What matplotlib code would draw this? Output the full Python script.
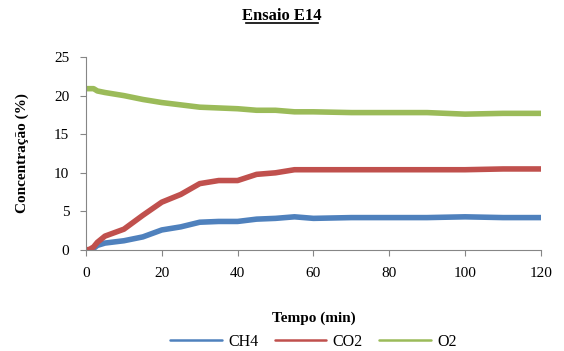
import matplotlib
matplotlib.use("Agg")
import matplotlib.pyplot as plt

tempo = [0, 1, 2, 3, 5, 10, 15, 20, 25, 30, 35, 40, 45, 50, 55, 60, 70, 80, 90, 100, 110, 120]
ch4 = [0.0, 0.0, 0.2, 0.6, 0.9, 1.2, 1.7, 2.6, 3.0, 3.6, 3.7, 3.7, 4.0, 4.1, 4.3, 4.1, 4.2, 4.2, 4.2, 4.3, 4.2, 4.2]
co2 = [0.0, 0.1, 0.4, 1.0, 1.8, 2.7, 4.5, 6.2, 7.2, 8.6, 9.0, 9.0, 9.8, 10.0, 10.4, 10.4, 10.4, 10.4, 10.4, 10.4, 10.5, 10.5]
o2 = [20.9, 20.9, 20.9, 20.6, 20.4, 20.0, 19.5, 19.1, 18.8, 18.5, 18.4, 18.3, 18.1, 18.1, 17.9, 17.9, 17.8, 17.8, 17.8, 17.6, 17.7, 17.7]
series = ["CH4", "CO2", "O2"]
cores = ["#4f81bd", "#c0504d", "#9bbb59"]

plt.rcParams['font.family'] = ['Liberation Serif', 'DejaVu Serif']

fig = plt.figure(figsize=(5.64, 3.51), dpi=100)
ax = fig.add_axes([0.1525, 0.2877, 0.8065, 0.5499])

for nome, vals, cor in zip(series, [ch4, co2, o2], cores):
    ax.plot(tempo, vals, color=cor, lw=4, label=nome, solid_capstyle='round')

ax.set_xlim(0, 120)
ax.set_ylim(0, 25)
ax.set_xticks(range(0, 121, 20))
ax.set_yticks(range(0, 26, 5))
for s in ['top', 'right']:
    ax.spines[s].set_visible(False)
for s in ['left', 'bottom']:
    ax.spines[s].set_color('#868686')
ax.tick_params(direction='out', length=4, color='#868686', labelsize=11, pad=8)
ax.set_xlabel('Tempo (min)', fontsize=11, fontweight='bold', labelpad=23)
ax.set_ylabel('Concentração (%)', fontsize=11, fontweight='bold', labelpad=18)

fig.text(0.5, 0.943, 'Ensaio E14', ha='center', fontsize=12, fontweight='bold')
fig.add_artist(plt.Line2D([0.4365, 0.5635], [0.934, 0.934], color='black', lw=1.2))

leg = ax.legend(loc='center', bbox_to_anchor=(0.5, -0.475), ncol=3, frameon=False,
                fontsize=11.5, handlelength=3.2, columnspacing=1.05, handletextpad=0.4,
                borderpad=0.2)
for l in leg.get_lines():
    l.set_linewidth(1.8)

fig.savefig('out.png', dpi=100)
